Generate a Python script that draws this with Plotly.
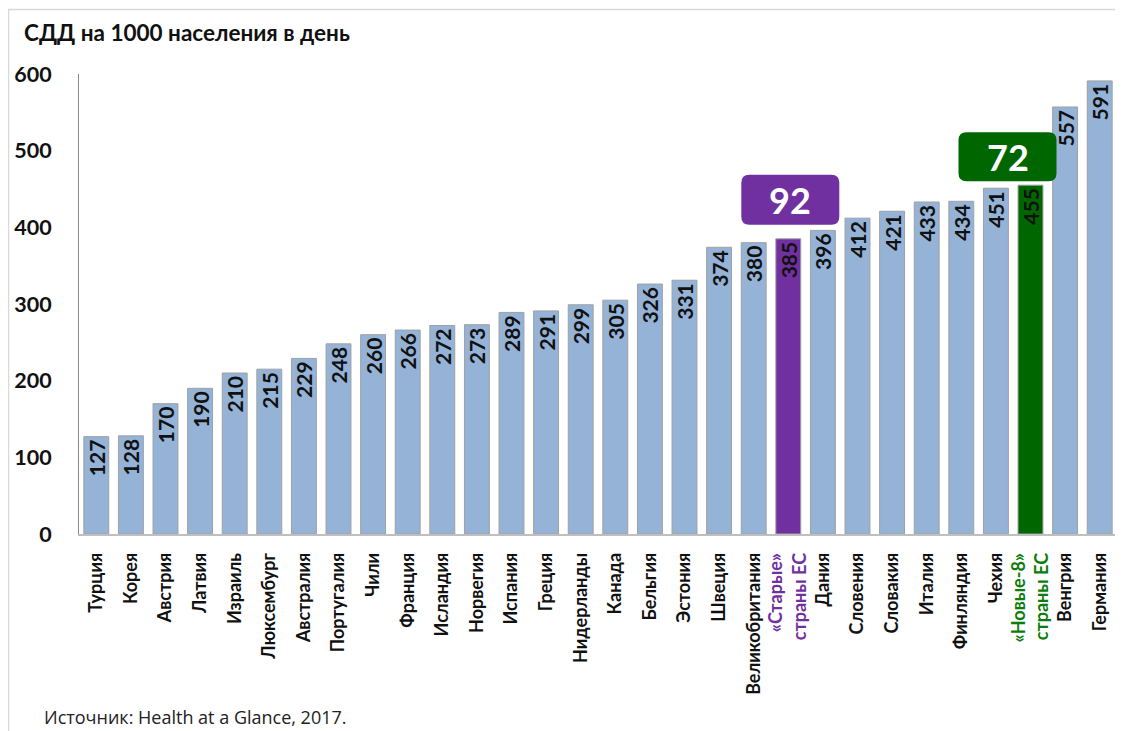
import plotly.graph_objects as go

categories = ["Турция", "Корея", "Австрия", "Латвия", "Израиль", "Люксембург", "Австралия",
              "Португалия", "Чили", "Франция", "Исландия", "Норвегия", "Испания", "Греция",
              "Нидерланды", "Канада", "Бельгия", "Эстония", "Швеция", "Великобритания",
              "«Старые» страны ЕС", "Дания", "Словения", "Словакия", "Италия", "Финляндия",
              "Чехия", "«Новые-8» страны ЕС", "Венгрия", "Германия"]
values = [127, 128, 170, 190, 210, 215, 229, 248, 260, 266, 272, 273, 289, 291, 299, 305,
          326, 331, 374, 380, 385, 396, 412, 421, 433, 434, 451, 455, 557, 591]
y_ticks = [0, 100, 200, 300, 400, 500, 600]
old_eu_count = "92"
new8_count = "72"

PURPLE = "#7030a0"
GREEN_BAR = "#006600"
GREEN_TXT = "#0a7d0a"
BLUE = "#95b3d7"

old_idx = categories.index("«Старые» страны ЕС")
new_idx = categories.index("«Новые-8» страны ЕС")

colors = [BLUE] * len(categories)
colors[old_idx] = PURPLE
colors[new_idx] = GREEN_BAR

ticktext = []
for c in categories:
    if c == "«Старые» страны ЕС":
        ticktext.append(f"<span style='color:{PURPLE}'>«Старые»<br>страны ЕС</span>")
    elif c == "«Новые-8» страны ЕС":
        ticktext.append(f"<span style='color:{GREEN_TXT}'>«Новые-8»<br>страны ЕС</span>")
    else:
        ticktext.append(c)

FONT = "Lato"

# page has an 8px body margin; figure drawn at screen offset (8, 8)
OFF = 8
W, H = 1123 - OFF, 731 - OFF
L, R, T, B = 79 - OFF, 6, 74 - OFF, 197
pw, ph = W - L - R, H - T - B

def px(sx):
    return (sx - OFF - L) / pw

def py(sy):
    return (H - B - (sy - OFF)) / ph

fig = go.Figure()
fig.add_trace(go.Bar(
    x=list(range(len(categories))),
    y=values,
    marker=dict(color=colors, line=dict(color="#a0a0a0", width=1)),
    text=[str(v) for v in values],
    textposition="inside",
    insidetextanchor="end",
    textangle=-90,
    constraintext="none",
    insidetextfont=dict(family=FONT, size=21, color="#111111", weight="bold"),
    hoverinfo="skip",
))

def rounded_rect(x0, x1, y0, y1, r):
    return (f"M {x0+r},{y0} L {x1-r},{y0} Q {x1},{y0} {x1},{y0+r} "
            f"L {x1},{y1-r} Q {x1},{y1} {x1-r},{y1} L {x0+r},{y1} "
            f"Q {x0},{y1} {x0},{y1-r} L {x0},{y0+r} Q {x0},{y0} {x0+r},{y0} Z")

shapes = [
    dict(type="path", xref="x", yref="y", xsizemode="pixel", ysizemode="pixel",
         xanchor=old_idx, yanchor=values[old_idx],
         path=rounded_rect(-47, 51, 14, 64, 8),
         fillcolor=PURPLE, line=dict(width=0)),
    dict(type="path", xref="x", yref="y", xsizemode="pixel", ysizemode="pixel",
         xanchor=new_idx, yanchor=values[new_idx],
         path=rounded_rect(-72, 26, 4, 53, 8),
         fillcolor=GREEN_BAR, line=dict(width=0)),
    dict(type="rect", xref="paper", yref="paper", x0=px(8.5), x1=px(1140), y0=py(760), y1=py(9.5),
         line=dict(color="#d9d9d9", width=1.5), fillcolor="rgba(0,0,0,0)", layer="below"),
]

annotations = [
    dict(x=old_idx, y=values[old_idx], xref="x", yref="y", text=old_eu_count, showarrow=False,
         xshift=2, yshift=39, font=dict(family=FONT, size=36, color="white", weight="bold")),
    dict(x=new_idx, y=values[new_idx], xref="x", yref="y", text=new8_count, showarrow=False,
         xshift=-23, yshift=28.5, font=dict(family=FONT, size=36, color="white", weight="bold")),
    dict(x=px(22), y=py(32), xref="paper", yref="paper", text="СДД на 1000 населения в день",
         showarrow=False, xanchor="left", yanchor="middle",
         font=dict(family=FONT, size=22.5, color="#111111", weight="bold")),
    dict(x=px(42), y=py(717), xref="paper", yref="paper", text="Источник: Health at a Glance, 2017.",
         showarrow=False, xanchor="left", yanchor="middle",
         font=dict(family="Open Sans", size=18, color="#222222")),
]

fig.update_layout(
    width=W, height=H,
    margin=dict(l=L, r=R, t=T, b=B, pad=0),
    paper_bgcolor="white", plot_bgcolor="white",
    bargap=0.28,
    showlegend=False,
    shapes=shapes,
    annotations=annotations,
    font=dict(family=FONT),
    xaxis=dict(
        tickmode="array", tickvals=list(range(len(categories))), ticktext=ticktext,
        tickangle=-90, showgrid=False, zeroline=False, showline=True,
        linecolor="#bfbfbf", linewidth=1.5, ticks="", ticklabelstandoff=10,
        tickfont=dict(family=FONT, size=18, color="#111111", weight="bold"),
        range=[-0.5, len(categories) - 0.5],
    ),
    yaxis=dict(
        range=[0, 600], tickvals=y_ticks, showgrid=False, zeroline=False, showline=True,
        linecolor="#888888", linewidth=1, ticks="", ticklabelstandoff=22,
        tickfont=dict(family=FONT, size=21.5, color="#111111", weight="bold"),
    ),
)

fig.write_html("out.html")
